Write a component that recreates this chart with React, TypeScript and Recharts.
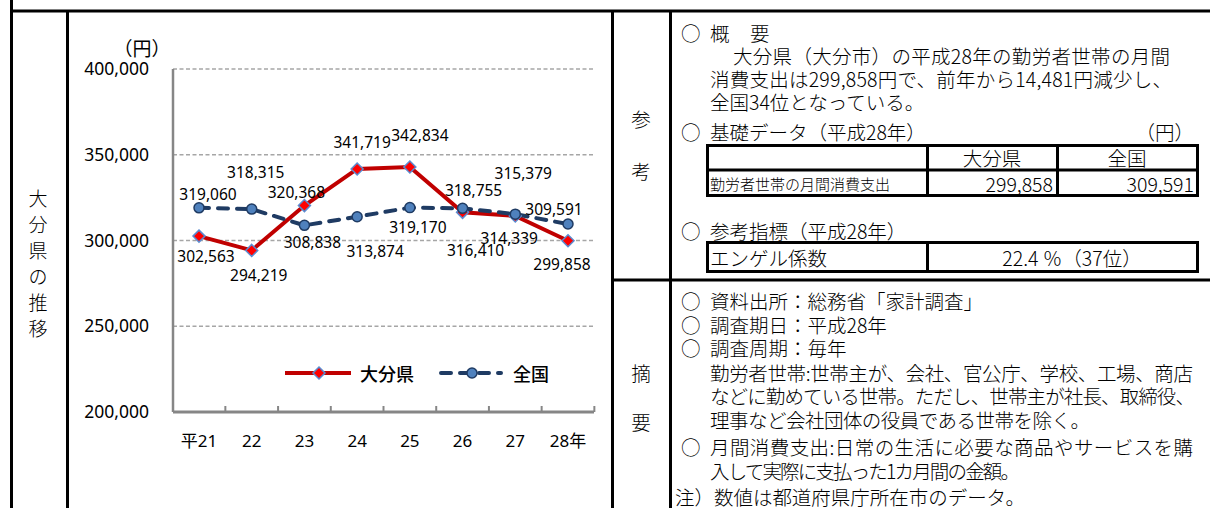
import { CartesianGrid, Legend, Line, LineChart, XAxis, YAxis } from "recharts";

const YEARS = ["平21", "22", "23", "24", "25", "26", "27", "28年"];
const OITA = [302563, 294219, 320368, 341719, 342834, 316410, 314339, 299858];
const NATIONAL = [319060, 318315, 308838, 313874, 319170, 318755, 315379, 309591];
const Y_TICKS = [200000, 250000, 300000, 350000, 400000];
const SERIES = ["大分県", "全国"];

// where each value label sits relative to its point (dx, dy)
const OITA_LABEL_AT = [[7, 20], [7, 25], [-8, -14], [5, -27], [10, -32], [13, 38], [-6, 22], [-6, 23]];
const NATIONAL_LABEL_AT = [[9, -14], [4, -37], [8, 17], [18, 34], [8, 19], [11, -18], [8, -41], [-14, -15]];

const data = YEARS.map((year, i) => ({ year, oita: OITA[i], national: NATIONAL[i] }));

const FONT = "'Noto Sans', 'Noto Sans CJK JP', sans-serif";
const FONT_JP = "'Noto Sans CJK JP', sans-serif";
const RED = "#c00000";
const NAVY = "#1f3b63";
const AXIS = "#868686";
const GRID = "#a6a6a6";

const CHART_W = 540;
const CHART_H = 490;
const MARGIN = { top: 57, right: 16, bottom: 0, left: 0 };
const Y_AXIS_W = 103;
const PLOT_W = CHART_W - MARGIN.left - MARGIN.right - Y_AXIS_W;
const X_PAD = 26;
const BAND = (PLOT_W - 2 * X_PAD) / (YEARS.length - 1);

const fmt = (v: number) => v.toLocaleString("en-US");

function Diamond({ cx, cy }: any) {
  const r = 6;
  return (
    <path
      d={`M${cx},${cy - r}L${cx + r},${cy}L${cx},${cy + r}L${cx - r},${cy}Z`}
      fill="#ff0000"
      stroke="#5b8bd0"
      strokeWidth={1.5}
    />
  );
}

function NavyDot({ cx, cy }: any) {
  return <circle cx={cx} cy={cy} r={5} fill="#4f81bd" stroke={NAVY} strokeWidth={1.5} />;
}

function YearTick({ x, y, payload }: any) {
  return (
    <g>
      <line x1={x + BAND / 2} x2={x + BAND / 2} y1={y} y2={y - 6} stroke={AXIS} strokeWidth={2} />
      <text x={x} y={y + 28} textAnchor="middle" dominantBaseline="central" fontSize={17} fontFamily={FONT} fill="#000">
        {payload.value}
      </text>
    </g>
  );
}

function valueLabel(at: number[][]) {
  return (props: any) => {
    const { x, y, value, index } = props;
    const [dx, dy] = at[index];
    return (
      <text key={index} x={x + dx} y={y + dy} textAnchor="middle" dominantBaseline="central" fontSize={15.5} fontFamily={FONT} fill="#000">
        {fmt(value)}
      </text>
    );
  };
}

function LegendContent() {
  return (
    <svg width={300} height={24} style={{ display: "block" }}>
      <line x1={0} x2={66} y1={12} y2={12} stroke={RED} strokeWidth={4} />
      <Diamond cx={34} cy={12} />
      <text x={75} y={12} dominantBaseline="central" fontSize={18} fontWeight={500} fontFamily={FONT_JP} fill="#000">
        {SERIES[0]}
      </text>
      <line x1={156} x2={216} y1={12} y2={12} stroke={NAVY} strokeWidth={4} strokeDasharray="10 9" strokeLinecap="round" />
      <NavyDot cx={187} cy={12} />
      <text x={228} y={12} dominantBaseline="central" fontSize={18} fontWeight={500} fontFamily={FONT_JP} fill="#000">
        {SERIES[1]}
      </text>
    </svg>
  );
}

// text lines of the side panels: [text, x, y, fitted width?]
const NOTE_LINES: [string, number, number, number?][] = [
  ["概", 710, 32],
  ["要", 750, 32],
  ["大分県（大分市）の平成28年の勤労者世帯の月間", 733, 55, 437],
  ["消費支出は299,858円で、前年から14,481円減少し、", 710, 78, 462],
  ["全国34位となっている。", 710, 101],
  ["基礎データ（平成28年）", 710, 131],
  ["参考指標（平成28年）", 710, 230],
  ["資料出所：総務省「家計調査」", 710, 300],
  ["調査期日：平成28年", 710, 324],
  ["調査周期：毎年", 710, 347],
  ["勤労者世帯:世帯主が、会社、官公庁、学校、工場、商店", 710, 372, 483],
  ["などに勤めている世帯。ただし、世帯主が社長、取締役、", 710, 395, 485],
  ["理事など会社団体の役員である世帯を除く。", 710, 419, 380],
  ["月間消費支出:日常の生活に必要な商品やサービスを購", 710, 446, 483],
  ["入して実際に支払った1カ月間の金額。", 710, 470, 310],
  ["注）数値は都道府県庁所在市のデータ。", 675, 496, 350],
];
const BULLET_Y = [32, 131, 230, 300, 324, 347, 446];

function Frame() {
  const t = (s: string, x: number, y: number, opts: any = {}) => (
    <text x={x} y={y} dominantBaseline="central" fontSize={19.5} fontWeight={300} fontFamily={FONT_JP} fill="#000" {...opts}>
      {s}
    </text>
  );
  return (
    <svg width={1210} height={508} style={{ position: "absolute", left: 0, top: 0 }}>
      <g stroke="#000" fill="none">
        <line x1={11.5} x2={11.5} y1={0} y2={508} strokeWidth={3} />
        <line x1={10} x2={1210} y1={11} y2={11} strokeWidth={3} />
        <line x1={67.5} x2={67.5} y1={11} y2={508} strokeWidth={3} />
        <line x1={612.5} x2={612.5} y1={11} y2={508} strokeWidth={3} />
        <line x1={670.5} x2={670.5} y1={11} y2={508} strokeWidth={3} />
        <line x1={612} x2={1210} y1={280} y2={280} strokeWidth={3} />
        <rect x={707.5} y={145.5} width={490} height={50} strokeWidth={3} />
        <line x1={707} x2={1198} y1={170} y2={170} strokeWidth={3} />
        <line x1={927.5} x2={927.5} y1={145} y2={196} strokeWidth={3} />
        <line x1={1057.5} x2={1057.5} y1={145} y2={196} strokeWidth={3} />
        <rect x={707.5} y={242.5} width={490} height={29} strokeWidth={3} />
        <line x1={927.5} x2={927.5} y1={242} y2={272} strokeWidth={3} />
      </g>
      {"大分県の推移".split("").map((c, i) => t(c, 38, 197 + i * 26, { key: c + i, textAnchor: "middle", fontSize: 19 }))}
      {t("参", 641, 118, { textAnchor: "middle" })}
      {t("考", 641, 170, { textAnchor: "middle" })}
      {t("摘", 641, 372, { textAnchor: "middle" })}
      {t("要", 641, 421, { textAnchor: "middle" })}
      {BULLET_Y.map((y) => t("○", 681, y, { key: "b" + y }))}
      {NOTE_LINES.map(([s, x, y, w]) =>
        t(s, x, y, { key: s, ...(w ? { textLength: w, lengthAdjust: "spacing" } : {}) })
      )}
      {t("（円）", 1194, 131, { textAnchor: "end" })}
      {t(SERIES[0], 992, 157, { textAnchor: "middle" })}
      {t(SERIES[1], 1127, 157, { textAnchor: "middle" })}
      {t("勤労者世帯の月間消費支出", 710, 183, { fontSize: 15 })}
      {t(fmt(OITA[OITA.length - 1]), 1053, 183, { textAnchor: "end" })}
      {t(fmt(NATIONAL[NATIONAL.length - 1]), 1194, 183, { textAnchor: "end" })}
      {t("エンゲル係数", 710, 257)}
      {t("22.4 ％（37位）", 1072, 257, { textAnchor: "middle" })}
      <text x={142} y={47} textAnchor="middle" dominantBaseline="central" fontSize={19} fontFamily={FONT_JP} fill="#000">
        （円）
      </text>
    </svg>
  );
}

export default function App() {
  return (
    <div style={{ position: "absolute", left: 0, top: 0, width: 1210, height: 508, background: "#fff", overflow: "hidden" }}>
      <Frame />
      <div style={{ position: "absolute", left: 70, top: 12 }}>
        <LineChart width={CHART_W} height={CHART_H} data={data} margin={MARGIN}>
          <CartesianGrid vertical={false} stroke={GRID} strokeWidth={1.5} strokeDasharray="4 2.5" />
          <XAxis
            dataKey="year"
            padding={{ left: X_PAD, right: X_PAD }}
            height={90}
            tickLine={false}
            tickSize={0}
            tickMargin={0}
            interval={0}
            axisLine={{ stroke: AXIS, strokeWidth: 3 }}
            tick={<YearTick />}
          />
          <YAxis
            width={Y_AXIS_W}
            domain={[200000, 400000]}
            ticks={Y_TICKS}
            tickFormatter={fmt}
            tickLine={false}
            tickSize={0}
            tickMargin={24}
            axisLine={{ stroke: AXIS, strokeWidth: 2.5 }}
            tick={{ fontSize: 17.5, fill: "#000", fontFamily: FONT }}
          />
          <Legend
            verticalAlign="middle"
            align="center"
            wrapperStyle={{ left: 215, top: 349, width: 300 }}
            content={<LegendContent />}
          />
          <Line
            dataKey="oita"
            name={SERIES[0]}
            stroke={RED}
            strokeWidth={4}
            dot={(p: any) => <Diamond key={p.index} {...p} />}
            label={valueLabel(OITA_LABEL_AT)}
            isAnimationActive={false}
          />
          <Line
            dataKey="national"
            name={SERIES[1]}
            stroke={NAVY}
            strokeWidth={4}
            strokeDasharray="10 9"
            strokeLinecap="round"
            dot={(p: any) => <NavyDot key={p.index} {...p} />}
            label={valueLabel(NATIONAL_LABEL_AT)}
            isAnimationActive={false}
          />
        </LineChart>
      </div>
    </div>
  );
}
